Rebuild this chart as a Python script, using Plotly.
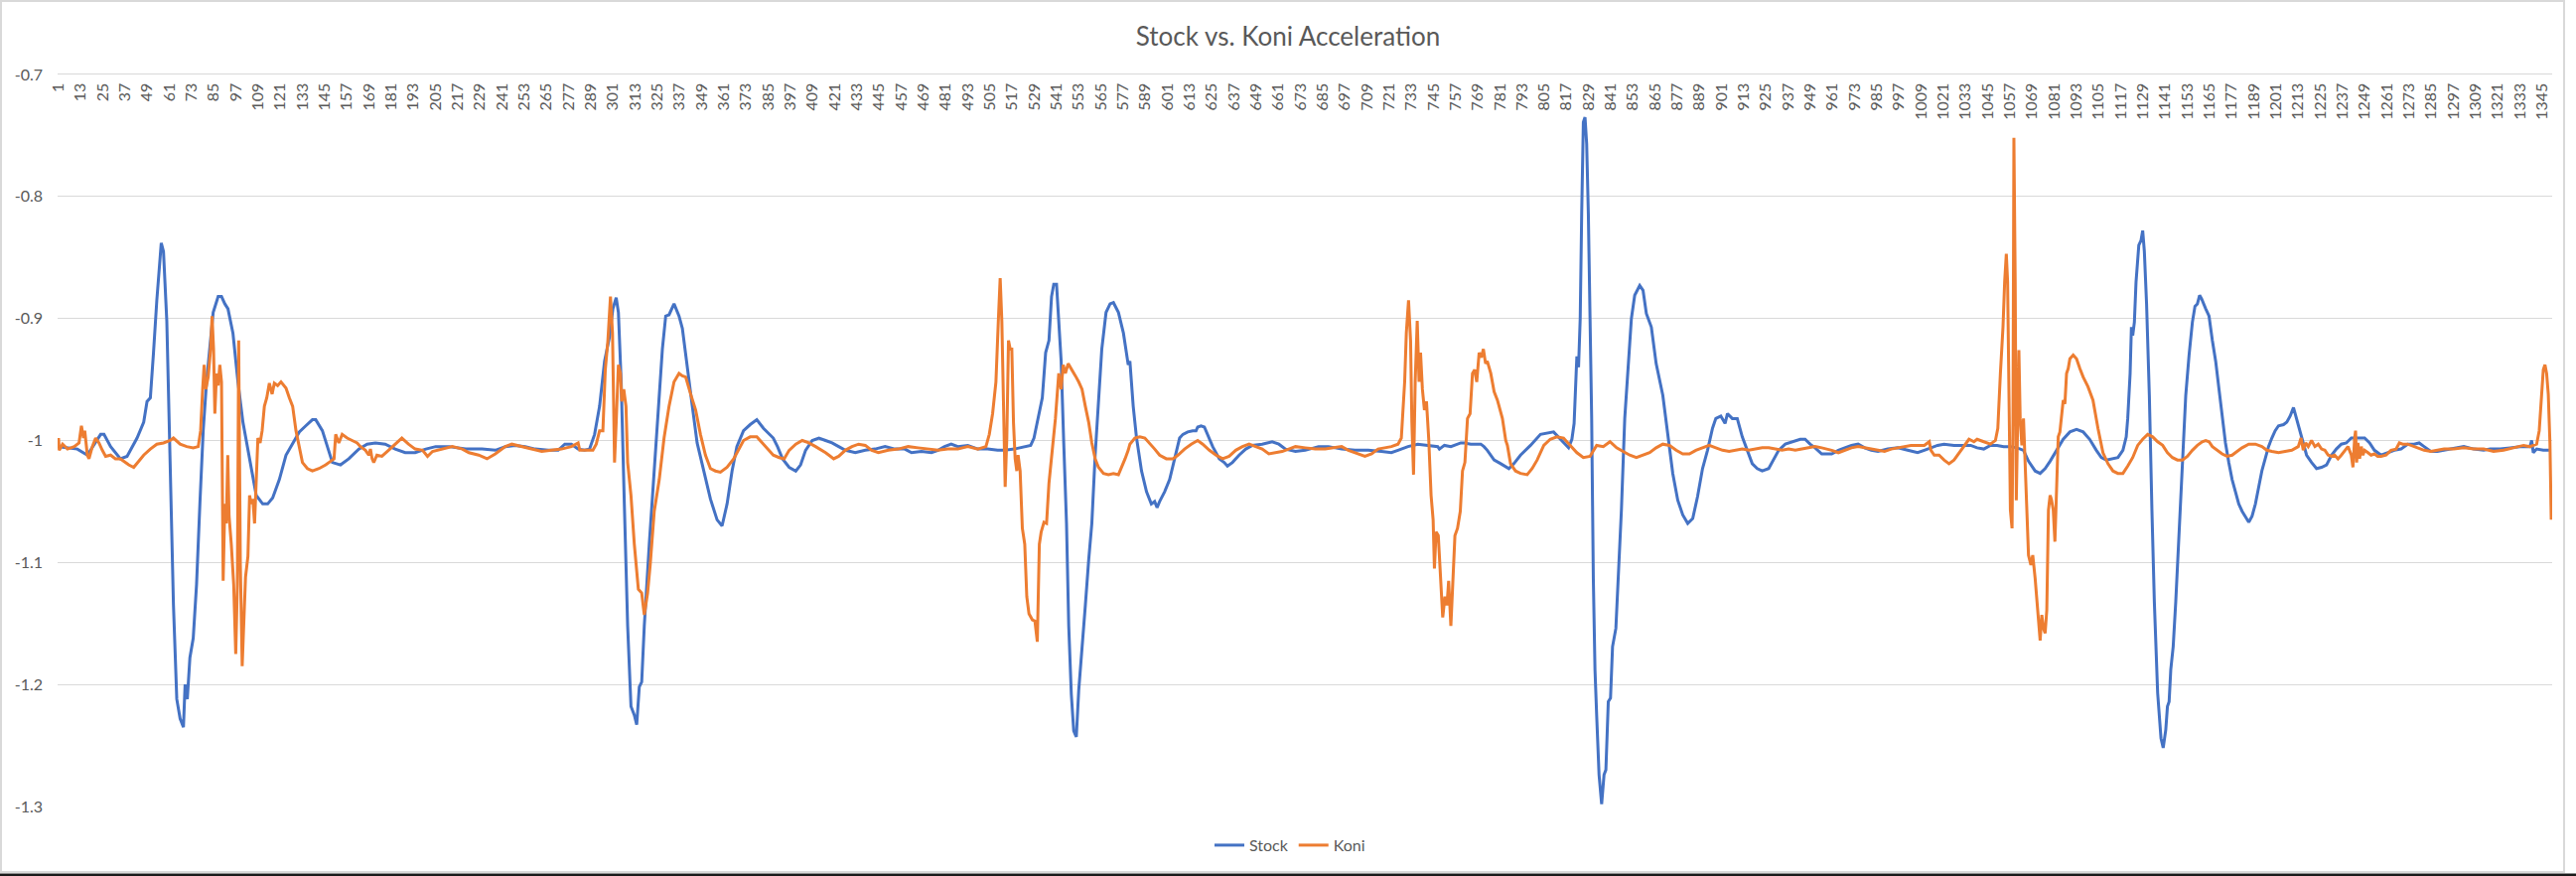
import plotly.graph_objects as go

# ---- data: (category index, acceleration) ----
stock_points = [
    (1,-1.005),(11.2,-1.007),(16.6,-1.012),(18.4,-1.008),(23.8,-0.995),(25.6,-0.995),(29.2,-1.005),(34.5,-1.015),
    (38.1,-1.013),(43.5,-0.998),(47.1,-0.985),(48.9,-0.968),(50.7,-0.965),(52.4,-0.928),(54.2,-0.885),(56.6,-0.838),
    (57.8,-0.845),(59.6,-0.902),(61.4,-1.018),(63.2,-1.135),(65,-1.212),(66.8,-1.228),(68.6,-1.235),(69.5,-1.2),
    (70.7,-1.212),(72.1,-1.178),(73.9,-1.162),(75.7,-1.118),(77.5,-1.052),(79.3,-0.992),(81.1,-0.952),(82.9,-0.925),
    (84.7,-0.895),(87.4,-0.882),(89.2,-0.882),(91,-0.888),(92.7,-0.892),(95.4,-0.912),(98.1,-0.952),(100.8,-0.985),
    (104.4,-1.015),(108,-1.045),(111.5,-1.052),(114.2,-1.052),(116.9,-1.047),(120.5,-1.032),(124.1,-1.012),
    (127.7,-1.002),(131.3,-0.993),(134.8,-0.988),(138.4,-0.983),(140.2,-0.983),(143.8,-0.992),(146.5,-1.005),
    (149.2,-1.018),(153.6,-1.02),(158.1,-1.015),(163.5,-1.007),(168,-1.003),(172.5,-1.002),(177.8,-1.003),
    (183.2,-1.007),(188.6,-1.01),(194,-1.01),
    (199.8,-1.007),(205.1,-1.005),(212.3,-1.005),(221.3,-1.007),(230.2,-1.007),(237.4,-1.008),(242.8,-1.005),
    (248.1,-1.004),(253.5,-1.005),(258.9,-1.007),(266,-1.008),(271.4,-1.008),(275,-1.003),(278.6,-1.003),
    (282.2,-1.007),(285.7,-1.008),(288.4,-1.007),(291.1,-0.995),(293.8,-0.972),(296.5,-0.935),(299.2,-0.915),
    (301,-0.892),(302.8,-0.883),(304,-0.895),(305.5,-0.952),(307.2,-1.052),(309,-1.152),(310.8,-1.218),
    (312.6,-1.225),(313.9,-1.233),(315.3,-1.202),(316.6,-1.198),(318,-1.152),(320.7,-1.085),(323.4,-1.025),
    (326.1,-0.965),(327.8,-0.925),(329.6,-0.898),(331.4,-0.897),(334.1,-0.888),(336.8,-0.898),(338.6,-0.908),
    (341.3,-0.938),(344,-0.972),(346.6,-1.002),(350.2,-1.025),(353.8,-1.048),(357.4,-1.065),(360.1,-1.07),
    (362.8,-1.052),(365.5,-1.025),(368.1,-1.005),(371.7,-0.992),(375.3,-0.987),(378.9,-0.983),(382.5,-0.99),
    (386.1,-0.995),(387.8,-0.998),
    (390.1,-1.005),(392.8,-1.015),(396.4,-1.022),(400,-1.025),(402.6,-1.02),(405.3,-1.008),(408.9,-1.0),
    (412.5,-0.998),(416.1,-1.0),(419.6,-1.002),(423.2,-1.005),(426.8,-1.008),(432.2,-1.01),(437.6,-1.008),
    (442.9,-1.007),(448.3,-1.005),(453.7,-1.007),(459,-1.007),(462.6,-1.01),(468,-1.009),(473.4,-1.01),
    (477,-1.008),(480.5,-1.005),(484.1,-1.003),(487.7,-1.005),(493.1,-1.004),(498.5,-1.007),(503.8,-1.007),
    (509.2,-1.008),(512.8,-1.008),(518.2,-1.007),(523.5,-1.005),(527.1,-1.004),(528.9,-0.998),(530.7,-0.985),
    (533.4,-0.965),(535.2,-0.928),(537,-0.918),(538.4,-0.882),(539.6,-0.872),(541.1,-0.872),(542.3,-0.902),
    (543.6,-0.935),(545,-1.002),(546.5,-1.068),(547.7,-1.152),(549.1,-1.208),(550.4,-1.238),(551.8,-1.243),
    (553.1,-1.205),(554.9,-1.172),(556.7,-1.135),(558.5,-1.098),(560.2,-1.068),(562,-1.012),(563.8,-0.972),
    (565.6,-0.925),(567.9,-0.895),(570.1,-0.888),(571.9,-0.887),(574.6,-0.895),(577.3,-0.912),(579.9,-0.938),
    (580.8,-0.935),(582.6,-0.972),(584.4,-0.998),(587.1,-1.025),(589.8,-1.042),(592.4,-1.052),(594.2,-1.05),
    (595.5,-1.055),(596.9,-1.05),(599.6,-1.042),(602.3,-1.032),(605,-1.015),(607.7,-0.998),(609.5,-0.995),
    (612.1,-0.993),(614.8,-0.992),(616.6,-0.992),(617.5,-0.989),(619.3,-0.988),(621.1,-0.989),(622.9,-0.995),
    (625.6,-1.005),(629.2,-1.015),(631.8,-1.018),(633.6,-1.021),(636.3,-1.018),(639.9,-1.012),(643.5,-1.007),
    (647.1,-1.004),(652.4,-1.003),(657.8,-1.001),(661.4,-1.003),(665,-1.007),(670.4,-1.009),(675.7,-1.008),
    (682.9,-1.005),(688.3,-1.005),(695.4,-1.007),(702.6,-1.008),(709.8,-1.008),(716.9,-1.009),(722.3,-1.01),
    (725.9,-1.008),(731.3,-1.005),(736.6,-1.003),(742,-1.004),(747.4,-1.005),(748.3,-1.007),(751,-1.004),
    (754.5,-1.005),(759.9,-1.002),(761.7,-1.002),(765.3,-1.003),(770.7,-1.003),(772.4,-1.005),(774.2,-1.008),
    (777.9,-1.016),(781.5,-1.019),(785.9,-1.023),(788.6,-1.019),(792.2,-1.012),(797.6,-1.004),(803,-0.995),
    (810.1,-0.993),(813.7,-0.999),(818.2,-1.006),(820,-0.999),(821.2,-0.986),(822.3,-0.945),(822.7,-0.931),
    (823.6,-0.94),(824.5,-0.9),(825.3,-0.814),(826.2,-0.739),(827.1,-0.735),(828,-0.757),(828.9,-0.814),
    (829.8,-0.9),(830.7,-0.982),(831.6,-1.113),(832.5,-1.188),(833.4,-1.225),(834.7,-1.274),(836.1,-1.298),
    (837.4,-1.274),(838.4,-1.27),(839.7,-1.214),(840.9,-1.211),(842,-1.169),(843.8,-1.154),(845.1,-1.113),
    (846.8,-1.057),(848.6,-0.982),(850.4,-0.945),(852.2,-0.9),(854,-0.881),(856.7,-0.873),(858.5,-0.877),
    (860.3,-0.896),(863,-0.907),(865.6,-0.937),(869.2,-0.963),(871.9,-0.993),(874.6,-1.027),(877.3,-1.049),
    (880,-1.061),(882.7,-1.068),(885.4,-1.064),(888,-1.046),(890.7,-1.023),(893.4,-1.008),(896.1,-0.99),
    (897.9,-0.982),(900.6,-0.98),(902.9,-0.986),(904.2,-0.978),(906.8,-0.982),(909.5,-0.982),(912.2,-0.997),
    (914.9,-1.008),(917.6,-1.019),(920.3,-1.023),(923,-1.025),(926.5,-1.023),(929.2,-1.016),(931.9,-1.008),
    (935.5,-1.003),(939.1,-1.001),(943.6,-0.999),(946.2,-0.999),(948.9,-1.003),(951.6,-1.006),(955.2,-1.011),
    (960.6,-1.011),(964.2,-1.008),(967.7,-1.006),
    (971.3,-1.004),(974.9,-1.003),(978.4,-1.006),(982,-1.008),(985.6,-1.009),(991,-1.007),(996.4,-1.006),
    (1001.7,-1.008),(1007.1,-1.01),(1010.7,-1.008),(1014.3,-1.006),(1017.9,-1.004),(1021.4,-1.003),
    (1026.8,-1.004),(1032.2,-1.004),(1035.8,-1.004),(1039.3,-1.006),(1042.9,-1.007),(1046.5,-1.004),
    (1050.1,-1.004),(1053.7,-1.005),(1057.3,-1.005),(1060.8,-1.006),(1064.4,-1.008),(1067.1,-1.017),
    (1070.7,-1.025),(1073.4,-1.027),(1076.1,-1.023),(1078.8,-1.017),(1082.3,-1.008),(1085.9,-0.999),
    (1089.5,-0.993),(1093.1,-0.991),(1096.7,-0.993),(1100.2,-0.999),(1103.8,-1.008),(1106.5,-1.014),
    (1109.2,-1.016),(1112.8,-1.015),(1115.5,-1.014),(1118.2,-1.008),(1120,-0.997),(1120.8,-0.982),
    (1122.1,-0.945),(1122.8,-0.907),(1123.5,-0.914),(1124.4,-0.903),(1125.3,-0.87),(1126.8,-0.84),
    (1128,-0.836),(1128.9,-0.828),(1129.8,-0.845),(1131,-0.888),(1132.5,-0.963),(1133.9,-1.057),
    (1135.2,-1.132),(1137,-1.207),(1138.8,-1.244),(1140,-1.252),(1141.4,-1.237),(1142.3,-1.218),
    (1143.2,-1.214),(1144.1,-1.188),(1145.4,-1.169),(1146.8,-1.132),(1148.6,-1.076),(1150.4,-1.027),
    (1152.2,-0.963),(1154,-0.93),(1155.8,-0.903),(1157.2,-0.89),(1158.5,-0.888),(1159.7,-0.881),(1160.8,-0.884),
    (1163,-0.892),(1164.8,-0.898),(1166.6,-0.918),(1168.4,-0.935),(1170.2,-0.958),(1171.9,-0.982),
    (1173.7,-1.002),(1175.5,-1.018),(1177.3,-1.032),(1179.1,-1.042),(1180.9,-1.052),(1182.7,-1.058),
    (1184.5,-1.063),(1186.3,-1.067),(1188.1,-1.062),(1189.9,-1.052),(1191.7,-1.038),(1193.4,-1.025),
    (1195.2,-1.015),(1197,-1.005),(1198.8,-0.998),(1200.6,-0.992),(1202.4,-0.988),(1205.1,-0.987),
    (1206.9,-0.985),(1208.7,-0.98),(1210.5,-0.973),(1212.2,-0.982),(1214,-0.992),(1215.8,-1.002),
    (1217.6,-1.012),(1220.3,-1.018),(1223,-1.023),(1225.7,-1.022),(1228.4,-1.02),(1231.1,-1.012),
    (1233.7,-1.007),(1236.4,-1.003),(1239.1,-1.002),(1241.8,-0.998),(1245.4,-0.998),(1249,-0.998),
    (1251.7,-1.002),(1254.3,-1.008),(1257.9,-1.012),(1261.5,-1.01),(1265.1,-1.008),(1268.7,-1.007),
    (1272.3,-1.003),(1275.8,-1.003),(1278.5,-1.002),(1281.2,-1.005),(1284.8,-1.009),(1288.4,-1.009),
    (1292,-1.008),(1295.5,-1.007),(1299.1,-1.006),(1302.7,-1.005),(1308.1,-1.007),(1313.4,-1.008),
    (1317,-1.007),(1322.4,-1.007),(1327.8,-1.006),(1333.1,-1.005),(1338.5,-1.005),(1339.4,-1.0),
    (1340.3,-1.01),(1342.1,-1.007),(1345.7,-1.008),(1349.5,-1.008),
]

koni_points = [
    (1,-0.998),(1.4,-1.008),(3.2,-1.003),(5.9,-1.007),(9.5,-1.005),(12.1,-1.002),(13.4,-0.988),(14.5,-0.998),
    (15.2,-0.992),(16.6,-1.012),(17.5,-1.015),(19.3,-1.005),(21.1,-0.998),(22.9,-1.002),(24.7,-1.008),
    (26.5,-1.013),(29.2,-1.012),(31.8,-1.015),(34.5,-1.015),(36.3,-1.017),(39,-1.02),(41.7,-1.022),
    (44.4,-1.017),(47.1,-1.012),(50.7,-1.007),(54.2,-1.003),(57.8,-1.002),(61.4,-1.0),(63.2,-0.998),
    (66.8,-1.003),(70.4,-1.005),(73.9,-1.006),(76.6,-1.005),(77.9,-0.992),(79,-0.958),(79.8,-0.938),
    (80.7,-0.958),(82,-0.948),(83.3,-0.925),(84.1,-0.898),(84.9,-0.925),(85.6,-0.978),(86.5,-0.945),
    (87.4,-0.955),(88.3,-0.938),(89.2,-0.952),(90.1,-1.115),(91,-1.052),(91.8,-1.068),(92.6,-1.012),
    (93.3,-1.062),(94.5,-1.085),(95.8,-1.118),(96.9,-1.175),(97.8,-1.118),(98.5,-0.918),(99.4,-1.102),
    (100.4,-1.185),(101.2,-1.152),(102.2,-1.112),(103.5,-1.095),(104.4,-1.045),(105.3,-1.052),(106.2,-1.048),
    (107.1,-1.068),(108,-1.025),(108.9,-0.998),(110.1,-1.002),(111.2,-0.992),(112.4,-0.972),(113.7,-0.965),
    (115.1,-0.953),(116.6,-0.962),(117.8,-0.953),(119.6,-0.955),(121.4,-0.952),(124.1,-0.957),(125.9,-0.965),
    (127.7,-0.972),(129.5,-0.992),(131.3,-1.005),(133,-1.018),(135.7,-1.023),(138.4,-1.025),(142,-1.023),
    (145.6,-1.02),(148.3,-1.017),(150.1,-1.015),(151,-0.995),(152.7,-1.002),(154.5,-0.995),(157.2,-0.998),
    (159.9,-1.0),(162.6,-1.002),(164.4,-1.005),(167.1,-1.008),(168.9,-1.012),(169.8,-1.007),(170.7,-1.015),
    (171.6,-1.018),(173.3,-1.012),(176,-1.013),(179.6,-1.008),(183.2,-1.003),(186.8,-0.998),(190.4,-1.003),
    (194,-1.007),
    (198,-1.008),(200.7,-1.013),(203.4,-1.009),(208.7,-1.007),(214.1,-1.005),(219.5,-1.007),(223.1,-1.01),
    (228.4,-1.012),(232.9,-1.015),(237.4,-1.011),(242.8,-1.005),(246.3,-1.003),(251.7,-1.005),(257.1,-1.007),
    (262.5,-1.009),(267.8,-1.008),(273.2,-1.007),(278.6,-1.005),(282.2,-1.002),(283.1,-1.008),(287.5,-1.008),
    (290.2,-1.008),(292,-1.003),(293.8,-0.992),(295.6,-0.992),(296.9,-0.942),(298.3,-0.918),(299.7,-0.882),
    (300.8,-0.912),(301.9,-1.018),(302.8,-0.985),(304,-0.938),(305.1,-0.945),(305.8,-0.968),(306.9,-0.958),
    (308.1,-0.972),(309,-1.018),(310.8,-1.045),(312.6,-1.085),(314.8,-1.122),(316.6,-1.125),(318,-1.143),
    (319.8,-1.125),(321.2,-1.102),(323.4,-1.058),(326.1,-1.032),(328.7,-0.998),(331.4,-0.972),(334.1,-0.952),
    (336.8,-0.945),(338.6,-0.947),(340.4,-0.948),(343.1,-0.962),(345.8,-0.975),(348.4,-0.995),(351.1,-1.012),
    (353.8,-1.023),(356.5,-1.025),(359.2,-1.026),(362.8,-1.022),(366.4,-1.015),(369,-1.007),(371.7,-1.0),
    (375.3,-0.997),(378.9,-0.997),(382.5,-1.003),(385.2,-1.008),(387.8,-1.012),
    (391,-1.014),(393.7,-1.015),(396.4,-1.008),(400,-1.003),(403.5,-1.0),(407.1,-1.002),(410.7,-1.005),
    (414.3,-1.008),(416.1,-1.01),(417.9,-1.012),(420.5,-1.015),(423.2,-1.013),(426.8,-1.008),(430.4,-1.005),
    (434,-1.003),(437.6,-1.004),(441.1,-1.008),(444.7,-1.01),(450.1,-1.008),(455.5,-1.007),(460.8,-1.005),
    (466.2,-1.006),(471.6,-1.007),(477,-1.008),(482.3,-1.007),(487.7,-1.007),(493.1,-1.005),(498.5,-1.007),
    (502.9,-1.005),(504.7,-0.995),(506.5,-0.978),(508.3,-0.952),(509.6,-0.902),(510.6,-0.867),(511.5,-0.902),
    (512.4,-0.985),(513.3,-1.038),(514.2,-0.998),(515.1,-0.918),(516,-0.925),(516.9,-0.925),(517.8,-0.985),
    (518.7,-1.015),(519.6,-1.025),(520.3,-1.012),(521.4,-1.025),(522.6,-1.072),(523.9,-1.085),(525,-1.128),
    (526.2,-1.142),(528,-1.147),(529.4,-1.148),(530.7,-1.165),(531.8,-1.085),(532.8,-1.075),(534.3,-1.067),
    (535.7,-1.068),(537,-1.035),(538.8,-1.005),(540.5,-0.982),(542.3,-0.945),(543.6,-0.958),(544.7,-0.938),
    (545.9,-0.945),(547.4,-0.937),(549.5,-0.942),(551.3,-0.947),(553.1,-0.952),(554.9,-0.958),(556.7,-0.972),
    (558.5,-0.985),(560.2,-1.002),(562,-1.015),(563.8,-1.022),(566.5,-1.027),(569.2,-1.028),(571.9,-1.027),
    (574.6,-1.028),(576.4,-1.022),(578.2,-1.015),(579.9,-1.008),
    (580.8,-1.003),(583.5,-0.998),(586.2,-0.997),(588.9,-0.998),(591.5,-1.002),(594.2,-1.007),(596.9,-1.012),
    (600.5,-1.015),(604.1,-1.015),(606.8,-1.012),(610.4,-1.007),(614,-1.003),(617.5,-1.0),(620.2,-1.003),
    (623.8,-1.008),(627.4,-1.012),(631,-1.015),(634.5,-1.013),(638.1,-1.008),(641.7,-1.005),(645.3,-1.003),
    (648.9,-1.005),(652.4,-1.007),(656,-1.011),(659.6,-1.01),(663.2,-1.009),(666.8,-1.007),(670.4,-1.005),
    (675.7,-1.006),(681.1,-1.007),(686.5,-1.007),(691.9,-1.006),(695.4,-1.005),(699,-1.008),(704.4,-1.011),
    (708,-1.013),(711.6,-1.011),(715.1,-1.007),(718.7,-1.006),(722.3,-1.005),(725.9,-1.003),(727.7,-0.998),
    (729.5,-0.952),(730.4,-0.912),(731.6,-0.885),(732.7,-0.918),(733.4,-0.985),(734.3,-1.028),(735.2,-0.952),
    (736.3,-0.902),(737.3,-0.952),(738.1,-0.928),(739.1,-0.958),(740.2,-0.975),(741.3,-0.968),(742.5,-0.998),
    (743.8,-1.045),(744.9,-1.065),(745.6,-1.105),(746.5,-1.075),(747.7,-1.078),(748.8,-1.105),(750.1,-1.145),
    (751.3,-1.128),(752.4,-1.135),(753.3,-1.115),(754.5,-1.152),(755.4,-1.122),(756.7,-1.078),(758.1,-1.072),
    (759.6,-1.058),(760.8,-1.025),(762.1,-1.018),(763.5,-0.982),(764.9,-0.978),(766.2,-0.945),(767.4,-0.942),
    (768.5,-0.952),(769.8,-0.928),(771,-0.932),(772.1,-0.925),(773.3,-0.937),(774.2,-0.935),
    (776.1,-0.945),(777.9,-0.96),(779.7,-0.967),(782.4,-0.982),(784.2,-1.0),(785.1,-1.004),(786.8,-1.019),
    (789.5,-1.025),(792.2,-1.027),(795.8,-1.028),(798.5,-1.023),(801.2,-1.016),(804.8,-1.004),(808.3,-0.999),
    (811.9,-0.997),(815.5,-0.998),(819.1,-1.004),(822.7,-1.01),(826.2,-1.014),(829.8,-1.013),(833.4,-1.004),
    (837,-1.005),(840.6,-1.001),(844.2,-1.006),(847.7,-1.009),(851.3,-1.012),(854.9,-1.014),(858.5,-1.012),
    (862.1,-1.01),(865.6,-1.006),(869.2,-1.003),(872.8,-1.004),(876.4,-1.008),(880,-1.011),(883.6,-1.011),
    (887.1,-1.008),(890.7,-1.006),(894.3,-1.004),(897.9,-1.006),(901.5,-1.008),(905.1,-1.009),(908.6,-1.008),
    (912.2,-1.007),(915.8,-1.008),(919.4,-1.007),(923,-1.006),(926.5,-1.006),(930.1,-1.007),(933.7,-1.008),
    (937.3,-1.007),(940.9,-1.008),(944.5,-1.007),(948,-1.006),(951.6,-1.005),(955.2,-1.006),(960.6,-1.008),
    (964.2,-1.01),(967.7,-1.008),
    (971.3,-1.006),(974.9,-1.005),(978.4,-1.006),(982,-1.007),(985.6,-1.008),(989.2,-1.009),(992.8,-1.007),
    (996.4,-1.006),(1000,-1.005),(1003.5,-1.004),(1007.1,-1.004),(1010.7,-1.004),(1013.4,-1.001),
    (1014.3,-1.008),(1016.1,-1.012),(1018.7,-1.012),(1021.4,-1.016),(1024.1,-1.019),(1026.8,-1.016),
    (1029.5,-1.01),(1032.2,-1.004),(1034.9,-0.999),(1037.6,-1.001),(1039.3,-0.999),(1042.9,-1.001),
    (1046.5,-1.003),(1049.2,-1.0),(1050.5,-0.99),(1051.9,-0.945),(1053.3,-0.907),(1054.2,-0.87),
    (1055.1,-0.847),(1055.8,-0.87),(1056.5,-0.982),(1057.3,-1.057),(1058.2,-1.072),(1058.7,-0.982),
    (1059.2,-0.752),(1059.9,-0.87),(1060.5,-1.049),(1061.2,-0.963),(1061.9,-0.926),(1062.6,-0.982),
    (1063.5,-1.004),(1064.4,-0.982),(1065.3,-1.019),(1066.2,-1.057),(1067.1,-1.094),(1068.4,-1.102),
    (1069.4,-1.094),(1070.7,-1.113),(1071.6,-1.132),(1072.5,-1.151),(1073.4,-1.164),(1074.3,-1.143),
    (1075.2,-1.154),(1076.1,-1.158),(1077,-1.139),(1077.9,-1.057),(1078.8,-1.045),(1079.6,-1.049),
    (1080.5,-1.057),(1081.4,-1.083),(1082.3,-1.038),(1083.2,-0.997),(1084.1,-0.993),(1085,-0.982),
    (1085.9,-0.967),(1086.8,-0.97),(1087.7,-0.945),(1088.6,-0.941),(1089.5,-0.933),(1091.3,-0.93),
    (1093.1,-0.933),(1094.9,-0.941),(1096.7,-0.948),(1099.3,-0.956),(1102,-0.967),(1104.7,-0.99),
    (1107.4,-1.01),(1110.1,-1.019),(1112.8,-1.025),(1115.5,-1.027),(1118.2,-1.027),(1120.8,-1.021),
    (1123.5,-1.014),(1126.2,-1.004),(1128.9,-0.999),(1131.6,-0.995),(1134.3,-0.997),(1137,-1.001),
    (1139.7,-1.004),(1142.3,-1.01),(1145,-1.014),(1147.7,-1.016),(1150.4,-1.016),(1153.1,-1.013),
    (1155.8,-1.008),(1158.5,-1.004),(1161.1,-1.001),
    (1163,-1.0),(1164.8,-1.001),(1166.6,-1.005),(1169.3,-1.008),(1171.9,-1.011),(1174.6,-1.013),
    (1177.3,-1.012),(1180,-1.009),(1182.7,-1.006),(1186.3,-1.003),(1189.9,-1.003),(1193.4,-1.005),
    (1196.1,-1.008),(1198.8,-1.009),(1202.4,-1.01),(1206,-1.009),(1209.6,-1.008),(1213.1,-1.005),
    (1214.6,-0.998),(1215.8,-1.008),(1217.1,-1.002),(1218.5,-1.005),(1220.3,-1.0),(1222.1,-1.005),
    (1223.9,-1.003),(1225.7,-1.007),(1227.5,-1.008),(1229.3,-1.012),(1231.1,-1.013),(1232.8,-1.012),
    (1234.6,-1.015),(1236.4,-1.012),(1238.2,-1.008),(1240,-1.005),(1241.8,-1.012),(1242.7,-1.022),
    (1243.6,-0.998),(1244.1,-0.992),(1244.7,-1.018),(1245.4,-1.002),(1246.3,-1.015),(1247.2,-1.005),
    (1248.1,-1.012),(1249,-1.008),(1250.8,-1.01),(1252.5,-1.012),(1254.3,-1.011),(1256.1,-1.013),
    (1257.9,-1.013),(1260.6,-1.012),(1263.3,-1.008),(1266,-1.007),(1267.8,-1.002),(1269.6,-1.003),
    (1272.3,-1.003),(1275.8,-1.005),(1278.5,-1.007),(1281.2,-1.008),(1284.8,-1.009),(1288.4,-1.008),
    (1292,-1.007),(1297.3,-1.007),(1302.7,-1.006),(1308.1,-1.007),(1313.4,-1.007),(1318.8,-1.009),
    (1324.2,-1.008),(1329.6,-1.006),(1335,-1.004),(1338.5,-1.005),(1342.1,-1.003),(1343.5,-0.992),
    (1344.8,-0.958),(1345.7,-0.942),(1346.6,-0.938),(1347.5,-0.945),(1348.4,-0.962),(1349.3,-1.002),
    (1350,-1.065),
]

n_categories = 1350
x_tick_values = list(range(1, 1346, 12))
x_tick_labels = [str(v) for v in x_tick_values]
y_tick_values = [-1.3, -1.2, -1.1, -1.0, -0.9, -0.8, -0.7]
y_tick_labels = ["-1.3", "-1.2", "-1.1", "-1", "-0.9", "-0.8", "-0.7"]

stock_x = [p[0] for p in stock_points]
stock_y = [p[1] for p in stock_points]
koni_x = [p[0] for p in koni_points]
koni_y = [p[1] for p in koni_points]

# ---- layout geometry (pixels) ----
W, H = 2594, 882
ML, MR, MT, MB = 58, 24, 75, 70
PW, PH = W - ML - MR, H - MT - MB

def px(xp):
    return (xp - ML) / PW

def py(yp):
    return (H - MB - yp) / PH

TXT = "#595959"
FONT = "Lato, 'Open Sans', sans-serif"

fig = go.Figure()
fig.add_trace(go.Scatter(x=stock_x, y=stock_y, mode="lines", name="Stock",
                         line=dict(color="#4472C4", width=3)))
fig.add_trace(go.Scatter(x=koni_x, y=koni_y, mode="lines", name="Koni",
                         line=dict(color="#ED7D31", width=3)))

fig.update_layout(
    width=W, height=H,
    margin=dict(l=ML, r=MR, t=MT, b=MB, pad=0),
    paper_bgcolor="white", plot_bgcolor="white",
    font=dict(family=FONT, color=TXT, size=16),
    title=dict(text="Stock vs. Koni Acceleration", x=0.5, xref="container", xanchor="center",
               y=1 - 37 / H, yref="container", yanchor="middle",
               font=dict(family=FONT, size=26, color=TXT)),
    showlegend=True,
    legend=dict(orientation="h", x=px(1299), xanchor="center", y=py(851), yanchor="middle",
                font=dict(family=FONT, size=16, color=TXT), bgcolor="rgba(0,0,0,0)",
                itemwidth=30, tracegroupgap=0),
    xaxis=dict(range=[0.5, n_categories + 0.5], side="top", tickmode="array",
               tickvals=x_tick_values, ticktext=x_tick_labels, tickangle=-90,
               ticklabelposition="inside", ticklabeloverflow="allow", ticks="",
               showgrid=False, zeroline=False,
               showline=True, linecolor="#D9D9D9", linewidth=1,
               tickfont=dict(family=FONT, size=16, color=TXT), fixedrange=True),
    yaxis=dict(range=[-1.3, -0.7], tickmode="array", tickvals=y_tick_values,
               ticktext=y_tick_labels, showgrid=True, gridcolor="#D9D9D9", gridwidth=1,
               zeroline=False, showline=False, ticks="", ticklabelstandoff=14,
               ticklabeloverflow="allow",
               tickfont=dict(family=FONT, size=16, color=TXT), fixedrange=True),
    shapes=[
        dict(type="rect", xref="paper", yref="paper", x0=px(1), x1=px(2582), y0=py(878), y1=py(1),
             line=dict(color="#D9D9D9", width=2), fillcolor="rgba(0,0,0,0)", layer="below"),
        dict(type="rect", xref="paper", yref="paper", x0=px(0), x1=px(W), y0=py(H), y1=py(879.5),
             line=dict(width=0), fillcolor="#1a1a1a", layer="above"),
    ],
)

fig.write_html("out.html")
